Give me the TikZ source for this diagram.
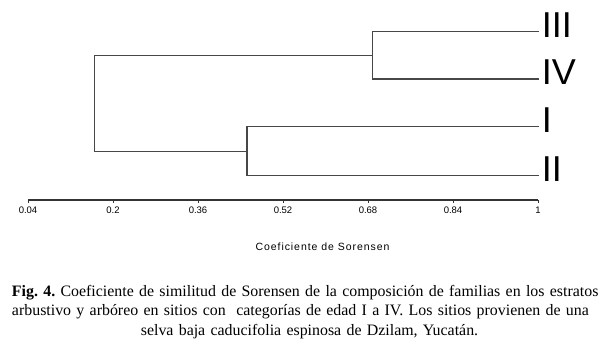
\documentclass[tikz,border=0pt]{standalone}
\usepackage{fontspec}
\setmainfont{Liberation Serif}
\newfontfamily\arialfont{Liberation Sans}
\usepackage{tikz}
\usetikzlibrary{positioning}

\newcommand{\leaffont}{\arialfont\fontsize{36}{36}\selectfont}
\newcommand{\tickfont}{\arialfont\fontsize{9.5}{10}\selectfont}
\newcommand{\titlefont}{\arialfont\addfontfeature{LetterSpace=9}\fontsize{10.5}{12}\selectfont}
\frenchspacing

\begin{document}
\begin{tikzpicture}[
  x=1pt, y=-1pt,
  branch/.style={draw=black!72, line width=1.2pt},
  axisline/.style={draw=black!80, line width=1.5pt},
  leaf/.style={font=\leaffont, inner sep=0pt, anchor=base west},
  ticklabel/.style={font=\tickfont, inner sep=0pt, below=5pt},
  caption/.style={font=\fontsize{15.9}{19.3}\selectfont, inner sep=0pt,
                  align=center, text width=595pt},
]
\useasboundingbox (0,0) rectangle (614,348);

% leaf ends and junctions
\coordinate (eIII) at (539,31.7);
\coordinate (eIV)  at (539,79);
\coordinate (eI)   at (539,126.7);
\coordinate (eII)  at (539,175.7);
\coordinate (jA)   at (372.7,55.3);
\coordinate (jB)   at (247,151.2);
\coordinate (root) at (94.3,103);

\node[leaf] (III) at (541.6,37.2) {III};
\node[leaf] (IV)  at (541.6,84.5) {IV};
\node[leaf] (I)   at (541.6,132.2) {I};
\node[leaf] (II)  at (541.6,181.2) {II};

\draw[branch] (eIII) -| (jA) |- (eIV);
\draw[branch] (eI) -| (jB) |- (eII);
\draw[branch] (jA) -| (root) |- (jB);

% scale
\coordinate (a0) at (28,200);
\coordinate (a1) at (538,200);
\draw[axisline] (a0) -- (a1);
\foreach \v/\x in {0.04/28, 0.2/113, 0.36/198, 0.52/283, 0.68/368, 0.84/453, 1/538}{
  \draw[axisline, line width=1pt] (\x,200) -- (\x,203);
  \node[ticklabel] (t\x) at (\x,202) {\v};
}
\node[font=\titlefont, inner sep=0pt] (xlab) at (322.5,247) {Coeficiente de Sorensen};

\node[caption, anchor=base] (cap) at (309.5,296.5) {%
  \makebox[595pt][s]{\textbf{Fig. 4.} Coeficiente de similitud de Sorensen de la composición de familias en los estratos}\\
  \makebox[595pt][s]{arbustivo y arbóreo en sitios con\ \ categorías de edad I a IV. Los sitios provienen de una}\\
  selva baja caducifolia espinosa de Dzilam, Yucatán.};
\end{tikzpicture}
\end{document}
